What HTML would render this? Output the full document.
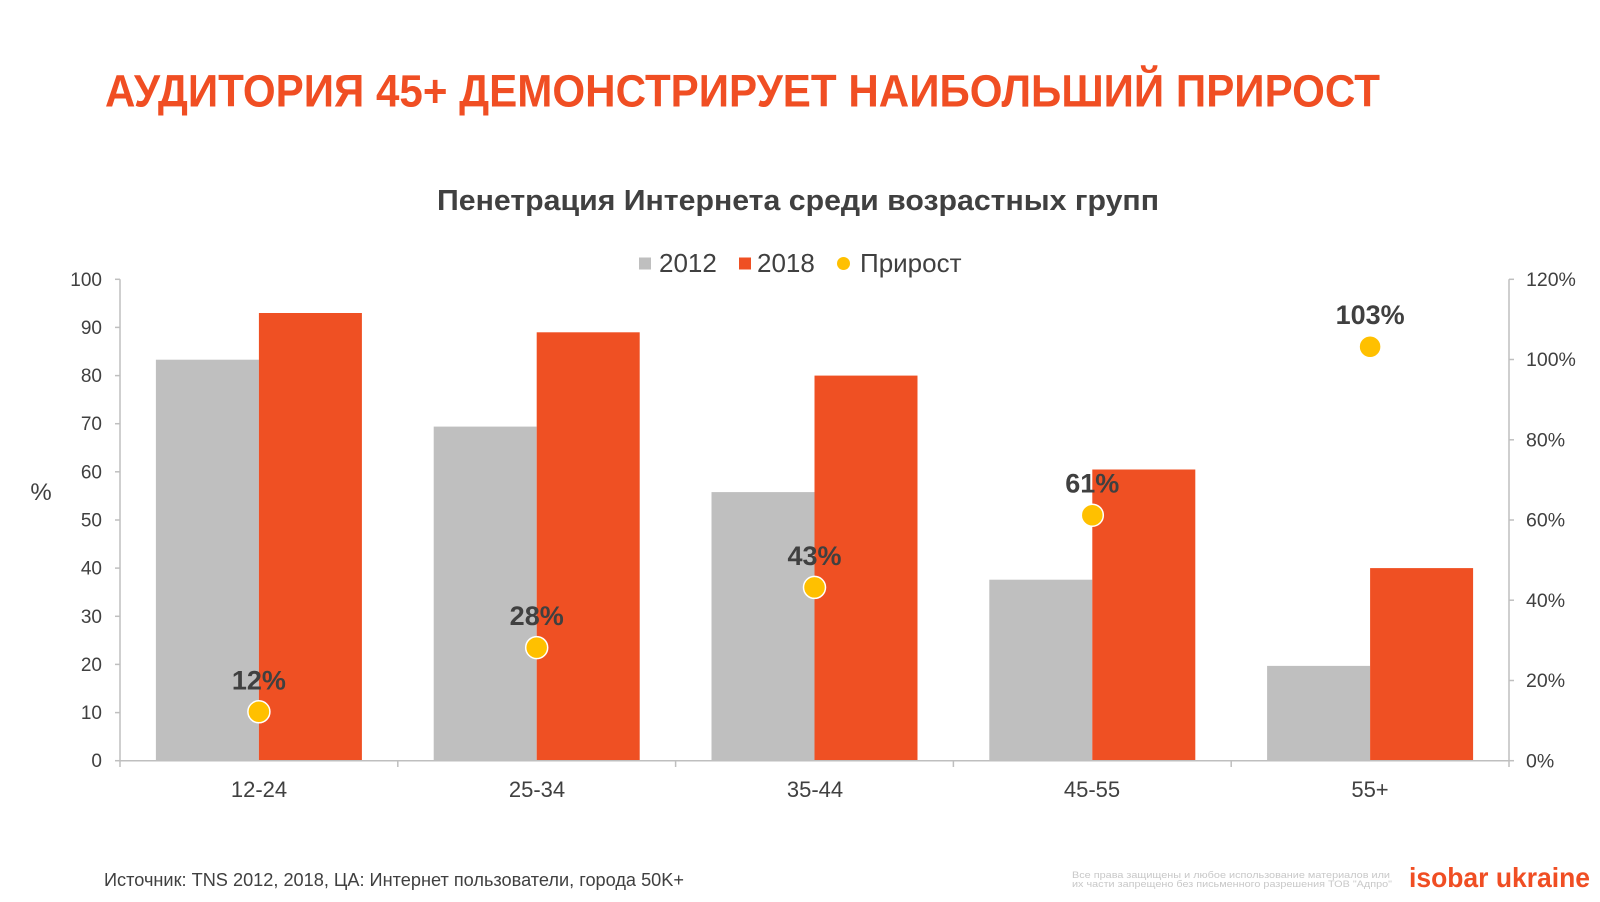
<!DOCTYPE html>
<html>
<head>
<meta charset="utf-8">
<style>
  html, body { margin:0; padding:0; background:#ffffff; }
  body { width:1600px; height:902px; overflow:hidden; }
  svg { display:block; }
  text { font-family: "Liberation Sans", "DejaVu Sans", sans-serif; }
</style>
</head>
<body>
<svg width="1600" height="902" viewBox="0 0 1600 902" xmlns="http://www.w3.org/2000/svg">
  <rect x="0" y="0" width="1600" height="902" fill="#ffffff"/>

  <!-- Title -->
  <text x="105" y="106.5" font-size="45" font-weight="bold" fill="#F04E23" textLength="1275" lengthAdjust="spacingAndGlyphs">АУДИТОРИЯ 45+ ДЕМОНСТРИРУЕТ НАИБОЛЬШИЙ ПРИРОСТ</text>

  <!-- Subtitle -->
  <text x="437" y="210" font-size="29" font-weight="bold" fill="#404040" textLength="722" lengthAdjust="spacingAndGlyphs">Пенетрация Интернета среди возрастных групп</text>

  <!-- Legend -->
  <rect x="639" y="257.5" width="12" height="12" fill="#BFBFBF"/>
  <text x="659" y="272" font-size="26" fill="#404040">2012</text>
  <rect x="739" y="257.5" width="12" height="12" fill="#EF5023"/>
  <text x="757" y="272" font-size="26" fill="#404040">2018</text>
  <circle cx="843.5" cy="263.5" r="6.5" fill="#FFC000"/>
  <text x="860" y="272" font-size="26" fill="#404040">Прирост</text>

  <!-- Bars 2012 (gray) -->
  <g fill="#BFBFBF">
    <rect x="155.9" y="359.7" width="103" height="401"/>
    <rect x="433.7" y="426.6" width="103" height="334.1"/>
    <rect x="711.5" y="492.1" width="103" height="268.6"/>
    <rect x="989.3" y="579.7" width="103" height="181"/>
    <rect x="1267.1" y="665.9" width="103" height="94.8"/>
  </g>
  <!-- Bars 2018 (orange) -->
  <g fill="#EF5023">
    <rect x="258.9" y="313.0" width="103" height="447.7"/>
    <rect x="536.7" y="332.3" width="103" height="428.4"/>
    <rect x="814.5" y="375.6" width="103" height="385.1"/>
    <rect x="1092.3" y="469.5" width="103" height="291.2"/>
    <rect x="1370.1" y="568.1" width="103" height="192.6"/>
  </g>

  <!-- Axes -->
  <g stroke="#BFBFBF" stroke-width="1.5" fill="none">
    <line x1="120" y1="279.3" x2="120" y2="760.7"/>
    <line x1="1509" y1="279.3" x2="1509" y2="760.7"/>
    <line x1="120" y1="760.7" x2="1509" y2="760.7"/>
    <line x1="115" y1="279.3" x2="120" y2="279.3"/>
    <line x1="115" y1="327.4" x2="120" y2="327.4"/>
    <line x1="115" y1="375.6" x2="120" y2="375.6"/>
    <line x1="115" y1="423.7" x2="120" y2="423.7"/>
    <line x1="115" y1="471.8" x2="120" y2="471.8"/>
    <line x1="115" y1="520.0" x2="120" y2="520.0"/>
    <line x1="115" y1="568.1" x2="120" y2="568.1"/>
    <line x1="115" y1="616.3" x2="120" y2="616.3"/>
    <line x1="115" y1="664.4" x2="120" y2="664.4"/>
    <line x1="115" y1="712.6" x2="120" y2="712.6"/>
    <line x1="115" y1="760.7" x2="120" y2="760.7"/>
    <line x1="1509" y1="279.3" x2="1514" y2="279.3"/>
    <line x1="1509" y1="359.5" x2="1514" y2="359.5"/>
    <line x1="1509" y1="439.8" x2="1514" y2="439.8"/>
    <line x1="1509" y1="520.0" x2="1514" y2="520.0"/>
    <line x1="1509" y1="600.2" x2="1514" y2="600.2"/>
    <line x1="1509" y1="680.5" x2="1514" y2="680.5"/>
    <line x1="1509" y1="760.7" x2="1514" y2="760.7"/>
    <line x1="120" y1="760.7" x2="120" y2="767"/>
    <line x1="397.8" y1="760.7" x2="397.8" y2="767"/>
    <line x1="675.6" y1="760.7" x2="675.6" y2="767"/>
    <line x1="953.4" y1="760.7" x2="953.4" y2="767"/>
    <line x1="1231.2" y1="760.7" x2="1231.2" y2="767"/>
    <line x1="1509" y1="760.7" x2="1509" y2="767"/>
  </g>

  <!-- Left axis labels -->
  <g font-size="19" fill="#404040" text-anchor="end">
    <text x="102" y="285.8">100</text>
    <text x="102" y="333.9">90</text>
    <text x="102" y="382.1">80</text>
    <text x="102" y="430.2">70</text>
    <text x="102" y="478.3">60</text>
    <text x="102" y="526.5">50</text>
    <text x="102" y="574.6">40</text>
    <text x="102" y="622.8">30</text>
    <text x="102" y="670.9">20</text>
    <text x="102" y="719.1">10</text>
    <text x="102" y="767.2">0</text>
  </g>
  <text x="41" y="500" font-size="24" fill="#404040" text-anchor="middle">%</text>

  <!-- Right axis labels -->
  <g font-size="19.5" fill="#404040" text-anchor="start">
    <text x="1526" y="286">120%</text>
    <text x="1526" y="366.2">100%</text>
    <text x="1526" y="446.5">80%</text>
    <text x="1526" y="526.7">60%</text>
    <text x="1526" y="606.9">40%</text>
    <text x="1526" y="687.2">20%</text>
    <text x="1526" y="767.4">0%</text>
  </g>

  <!-- Category labels -->
  <g font-size="22" fill="#404040" text-anchor="middle">
    <text x="259" y="797">12-24</text>
    <text x="537" y="797">25-34</text>
    <text x="815" y="797">35-44</text>
    <text x="1092" y="797">45-55</text>
    <text x="1370" y="797">55+</text>
  </g>

  <!-- Growth dots -->
  <g fill="#FFC000" stroke="#ffffff" stroke-width="1.5">
    <circle cx="258.9" cy="711.8" r="11"/>
    <circle cx="536.7" cy="647.6" r="11"/>
    <circle cx="814.5" cy="587.4" r="11"/>
    <circle cx="1092.3" cy="515.2" r="11"/>
    <circle cx="1370.1" cy="346.7" r="11"/>
  </g>
  <!-- Data labels -->
  <g font-size="27" font-weight="bold" fill="#404040" text-anchor="middle">
    <text x="258.9" y="689.3">12%</text>
    <text x="536.7" y="625.1">28%</text>
    <text x="814.5" y="564.9">43%</text>
    <text x="1092.3" y="492.7">61%</text>
    <text x="1370.1" y="324.2">103%</text>
  </g>

  <!-- Footer -->
  <text x="104" y="886" font-size="18" fill="#404040" textLength="580" lengthAdjust="spacingAndGlyphs">Источник: TNS 2012, 2018, ЦА: Интернет пользователи, города 50K+</text>

  <text x="1072" y="878" font-size="9.5" fill="#C8C8C8" textLength="318" lengthAdjust="spacingAndGlyphs">Все права защищены и любое использование материалов или</text>
  <text x="1072" y="887" font-size="9.5" fill="#C8C8C8" textLength="320" lengthAdjust="spacingAndGlyphs">их части запрещено без письменного разрешения ТОВ "Адпро"</text>

  <text x="1409" y="887" font-size="28" font-weight="bold" fill="#F04E23" font-family="'DejaVu Sans', 'Liberation Sans', sans-serif" textLength="181" lengthAdjust="spacingAndGlyphs">isobar ukraine</text>
</svg>
</body>
</html>
